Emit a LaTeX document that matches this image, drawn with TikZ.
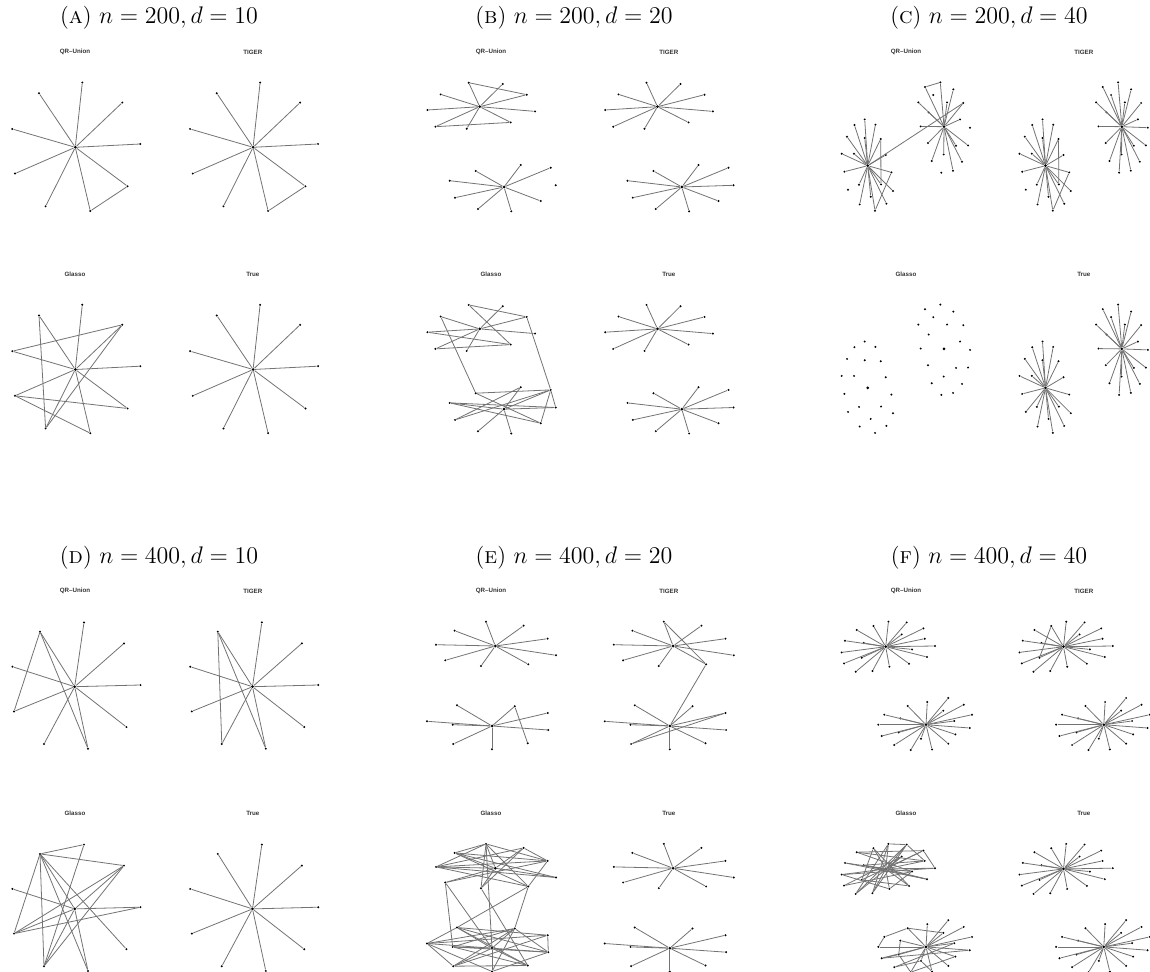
\documentclass[tikz,border=0pt]{standalone}
\usepackage{fontspec}
\newfontfamily\rlabfont{Liberation Sans}

% spokes from a hub and extra links, by node names
\newcommand{\drawspokes}[3]{\foreach \v in {#3} \draw[link] (#1#2) -- (#1\v);}
\newcommand{\drawlinks}[2]{\foreach \u/\v in {#2} \draw[link] (#1\u) -- (#1\v);}

% node layouts, one per panel (coordinates relative to the first hub)
\newcommand{\nodesA}[1]{%
  \node[hub] (#1c) at (0,0) {};
  \foreach \k/\px/\py in {1/7/-64.7, 2/-36.3/-54, 3/47/-44.7, 4/-63/-18.3, 5/65/-3.3,
      6/-60.3/26.3, 7/52.3/39, 8/-29.7/59, 9/15/63.7}
    \node[leaf] (#1\k) at (\px,\py) {};
}
\newcommand{\nodesB}[1]{%
  \node[hub] (#1tc) at (0,0) {};
  \foreach \k/\px/\py in {1/-11/-24, 2/23/-22.7, 3/-39/-12.3, 4/47/-12, 5/-52.3/3.3,
      6/55.3/4.7, 7/-44.3/20, 8/-13/22, 9/31/15.7}
    \node[leaf] (#1t\k) at (\px,\py) {};
  \begin{scope}[shift={(24.3,80.3)}]
  \node[hub] (#1bc) at (0,0) {};
  \foreach \k/\px/\py in {1/-28.3/-16, 2/16.7/-22, 3/46.7/-19.3, 4/-54.3/-6.3, 5/51.7/-1.7,
      6/-49/10.7, 7/36.7/14, 8/-26/22, 9/7.3/24.3}
    \node[leaf] (#1b\k) at (\px,\py) {};
  \end{scope}
}
\newcommand{\nodesC}[1]{%
  \node[hub] (#1lc) at (0,0) {};
  \foreach \k/\px/\py in {1/-3/-46.3, 2/-13.3/-40.7, 3/7.7/-41, 4/-20.7/-29, 5/-3/-27.7,
      6/13/-26.7, 7/-26/-12, 8/-13.7/-12, 9/18/-10.7, 10/-23.3/6, 11/23.7/6.7,
      12/-8.7/19, 13/13.3/18.7, 14/-19.7/24, 15/25.3/25.3, 16/3/31, 17/-8/38.7,
      18/18.7/38, 19/7.3/45}
    \node[leaf] (#1l\k) at (\px,\py) {};
  \begin{scope}[shift={(76.3,-39)}]
  \node[hub] (#1rc) at (0,0) {};
  \foreach \k/\px/\py in {1/-3.7/-44.3, 2/-19/-39.7, 3/9.3/-37.3, 4/-10.7/-31.7,
      5/-25.7/-24.3, 6/3/-24.3, 7/19.3/-23.7, 8/-15.3/-14.3, 9/16/-7.3, 10/-23.3/-0.3,
      11/26/1, 12/-16/16.3, 13/12/19, 14/24/18.7, 15/-0.3/27.7, 16/-12.3/34.3,
      17/18/35, 18/9/44, 19/-2.7/46}
    \node[leaf] (#1r\k) at (\px,\py) {};
  \end{scope}
}
\newcommand{\nodesD}[1]{%
  \node[hub] (#1c) at (0,0) {};
  \foreach \k/\px/\py in {1/9.3/-64.3, 2/-34.7/-55, 3/49.3/-43.3, 4/-62.3/-20, 5/65.7/-1.7,
      6/-60.7/24.7, 7/51.7/40.3, 8/-30.7/57.3, 9/13.3/62}
    \node[leaf] (#1\k) at (\px,\py) {};
}
\newcommand{\nodesE}[1]{%
  \node[hub] (#1tc) at (0,0) {};
  \foreach \k/\px/\py in {1/-9.3/-24.3, 2/28.3/-20.3, 3/-40.7/-15.3, 4/52.3/-7.3,
      5/-59.3/-1.3, 6/60.7/9.3, 7/-50/14.3, 8/-14.3/20, 9/33/18.3}
    \node[leaf] (#1t\k) at (\px,\py) {};
  \begin{scope}[shift={(-3.3,80)}]
  \node[hub] (#1bc) at (0,0) {};
  \foreach \k/\px/\py in {1/-35/-20.7, 2/22.7/-19.7, 3/55.7/-13, 4/-65/-4.7, 5/-39.3/-1.3,
      6/56.3/4, 7/-38.7/18, 8/35.7/17.3, 9/0/23.3}
    \node[leaf] (#1b\k) at (\px,\py) {};
  \end{scope}
}
\newcommand{\nodesF}[1]{%
  \node[hub] (#1tc) at (0,0) {};
  \foreach \k/\px/\py in {1/2.7/-25, 2/21/-24.3, 3/-12.3/-20.7, 4/-29/-16.7, 5/37.7/-18.3,
      6/16/-12.3, 7/39/-8, 8/-40.7/-6, 9/-22/-3.7, 10/26.3/2.7, 11/49.3/-0.7,
      12/-44/5.7, 13/-24/11, 14/41.3/10.3, 15/-41.7/16.7, 16/-13.3/24.3, 17/3.7/20,
      18/23.3/17, 19/-30/25}
    \node[leaf] (#1t\k) at (\px,\py) {};
  \begin{scope}[shift={(40.3,78)}]
  \node[hub] (#1bc) at (0,0) {};
  \foreach \k/\px/\py in {1/1.3/-22.7, 2/22.3/-26.7, 3/37.7/-20, 4/-18.3/-18.7, 5/-41.7/-10,
      6/-25.7/-6.3, 7/17.3/-14, 8/46/-10, 9/28.3/-3.7, 10/-47.7/0, 11/43.7/3.3,
      12/29.3/9.7, 13/-27.3/7.7, 14/-44.3/11.3, 15/-5/14, 16/-31.7/20.3, 17/22.3/19,
      18/-15.3/25.3, 19/6/24.7}
    \node[leaf] (#1b\k) at (\px,\py) {};
  \end{scope}
}

% the four plots of a panel: QR-Union, TIGER, Glasso, True
\newcommand{\panelplots}[4]{%
  \foreach \m/\sx/\sy in {q/0/0, t/177.8/0, g/0/222.2, r/177.8/222.2}{
    \begin{scope}[shift={(#3+\sx,#4+\sy)}] #1{#2\m} \end{scope}
  }
}
\newcommand{\methodlabels}[3]{%
  \node[methodlab] (#1qlab) at (#2,#3) {QR–Union};
  \node[methodlab] (#1tlab) at (#2+177.8,#3) {TIGER};
  \node[methodlab] (#1glab) at (#2,#3+222.2) {Glasso};
  \node[methodlab] (#1rlab) at (#2+177.8,#3+222.2) {True};
}

\begin{document}
\begin{tikzpicture}[x=0.5pt,y=-0.5pt,
  leaf/.style={circle,fill=black,inner sep=0pt,minimum size=1.1pt},
  hub/.style={circle,fill=black,inner sep=0pt,minimum size=1.5pt},
  link/.style={draw=black!55,line width=0.4pt},
  paneltitle/.style={font=\fontsize{11.5}{14}\selectfont,inner sep=0pt},
  methodlab/.style={font=\rlabfont\bfseries\fontsize{3.1}{3.6}\selectfont,text=black!80,inner sep=0pt}]
\useasboundingbox (0,0) rectangle (1150,972);

% titles
\node[paneltitle] (atitle) at (159,18) {(\textsc{a})~$n=200, d=10$};
\node[paneltitle] (btitle) at (574,18) {(\textsc{b})~$n=200, d=20$};
\node[paneltitle] (ctitle) at (989,18) {(\textsc{c})~$n=200, d=40$};
\node[paneltitle] (dtitle) at (159,558) {(\textsc{d})~$n=400, d=10$};
\node[paneltitle] (etitle) at (574,558) {(\textsc{e})~$n=400, d=20$};
\node[paneltitle] (ftitle) at (989,558) {(\textsc{f})~$n=400, d=40$};

\methodlabels{a}{75}{52}
\methodlabels{b}{491}{52}
\methodlabels{c}{906}{52}
\methodlabels{d}{75}{591}
\methodlabels{e}{491}{591}
\methodlabels{f}{906}{591}

% nodes
\panelplots{\nodesA}{a}{75.3}{147.3}
\panelplots{\nodesB}{b}{479.7}{106.7}
\panelplots{\nodesC}{c}{867.7}{165.7}
\panelplots{\nodesD}{d}{74.7}{686.7}
\panelplots{\nodesE}{e}{495.3}{646}
\panelplots{\nodesF}{f}{885.7}{646.7}

% (a)
\drawspokes{aq}{c}{1,...,9} \drawlinks{aq}{7/9}
\drawspokes{at}{c}{1,...,9} \drawlinks{at}{7/9}
\drawspokes{ag}{c}{1,...,9} \drawlinks{ag}{2/8,3/4,3/8,6/7,6/9}
\drawspokes{ar}{c}{1,...,9}

% (b)
\drawspokes{bqt}{c}{1,...,9} \drawlinks{bqt}{1/4,7/9}
\drawspokes{bqb}{c}{1,2,3,4,6,7,8,9}
\drawspokes{btt}{c}{1,...,9} \drawspokes{btb}{c}{1,...,9}
\drawspokes{bgt}{c}{2,3,4,5,6,7,8} \drawlinks{bgt}{1/4,1/9,5/9,7/9}
\draw[link] (bgt3) -- (bgb1);
\draw[link] (bgt4) -- (bgb3);
\drawspokes{bgb}{c}{2,3,4,5,8,9} \drawlinks{bgb}{1/3,1/7,4/7,4/5,6/3,6/2,3/7,3/5}
\drawspokes{brt}{c}{1,...,9} \drawspokes{brb}{c}{1,...,9}

% (c)
\drawspokes{cql}{c}{1,...,13,15,16,17,18,19} \drawlinks{cql}{6/13,11/19}
\drawspokes{cqr}{c}{1,2,3,5,6,7,8,9,10,12,13,14,15,16,17,18} \drawlinks{cqr}{1/2}
\draw[link] (cqlc) -- (cqr7);
\drawspokes{ctl}{c}{1,...,13,15,16,17,18,19} \drawlinks{ctl}{6/13,11/19}
\drawspokes{ctr}{c}{1,...,19}
\drawspokes{crl}{c}{1,...,19} \drawspokes{crr}{c}{1,...,19}

% (d)
\drawspokes{dq}{c}{1,...,9} \drawlinks{dq}{2/6,2/9}
\drawspokes{dt}{c}{1,...,9} \drawlinks{dt}{2/8,2/9}
\drawspokes{dg}{c}{2,3,4,5,6,8,9} \drawlinks{dg}{2/1,2/3,2/6,2/8,2/9,2/7,1/8,3/6,3/8,5/6}
\drawspokes{dr}{c}{1,...,9}

% (e)
\drawspokes{eqt}{c}{1,...,9}
\drawspokes{eqb}{c}{1,2,3,4,5,6,7,9} \drawlinks{eqb}{2/8}
\drawspokes{ett}{c}{1,...,9} \drawlinks{ett}{1/9}
\draw[link] (ett9) -- (etbc);
\drawspokes{etb}{c}{1,...,9} \drawlinks{etb}{7/3}
\drawspokes{egt}{c}{1,2,3,5,6,7,8}
\drawlinks{egt}{1/3,1/5,1/4,1/9,1/8,3/4,3/6,3/9,2/4,2/5,2/8,5/4,5/6,5/9,7/4,4/9}
\draw[link] (egt1) -- (egbc);
\draw[link] (egt7) -- (egbc);
\draw[link] (egt7) -- (egb5);
\draw[link] (egt8) -- (egb8);
\draw[link] (egt9) -- (egb2);
\draw[link] (egt9) -- (egb1);
\drawspokes{egb}{c}{1,2,4,5,6,7,8,9}
\drawlinks{egb}{4/1,4/7,4/2,4/3,1/3,1/6,1/8,2/7,2/9,2/5,2/6,5/6,5/8,7/3,7/8,9/6,9/4,3/6}
\drawspokes{ert}{c}{1,...,9} \drawspokes{erb}{c}{1,...,9}

% (f)
\drawspokes{fqt}{c}{1,...,19} \drawspokes{fqb}{c}{1,...,19}
\drawspokes{ftt}{c}{1,...,19} \drawlinks{ftt}{3/13}
\drawspokes{ftb}{c}{1,...,19}
\drawspokes{fgt}{c}{1,2,3,5,6,7,8,9,10,11,12,14,16,17,18}
\drawlinks{fgt}{1/2,4/5,4/7,2/7,5/11,12/11,8/14,19/2,16/2,13/5,15/6,15/10,19/6,1/16,3/13,4/10,9/14,12/17,13/18,1/19,3/18,9/7,17/10}
\drawspokes{fgb}{c}{1,2,3,4,6,7,8,9,10,11,12,13,14,15,17,18,19}
\drawlinks{fgb}{5/4,5/10,14/13,14/11,16/9,18/13,16/15,6/13,18/12,19/15,4/7}
\drawspokes{frt}{c}{1,...,19} \drawspokes{frb}{c}{1,...,19}
\end{tikzpicture}
\end{document}
